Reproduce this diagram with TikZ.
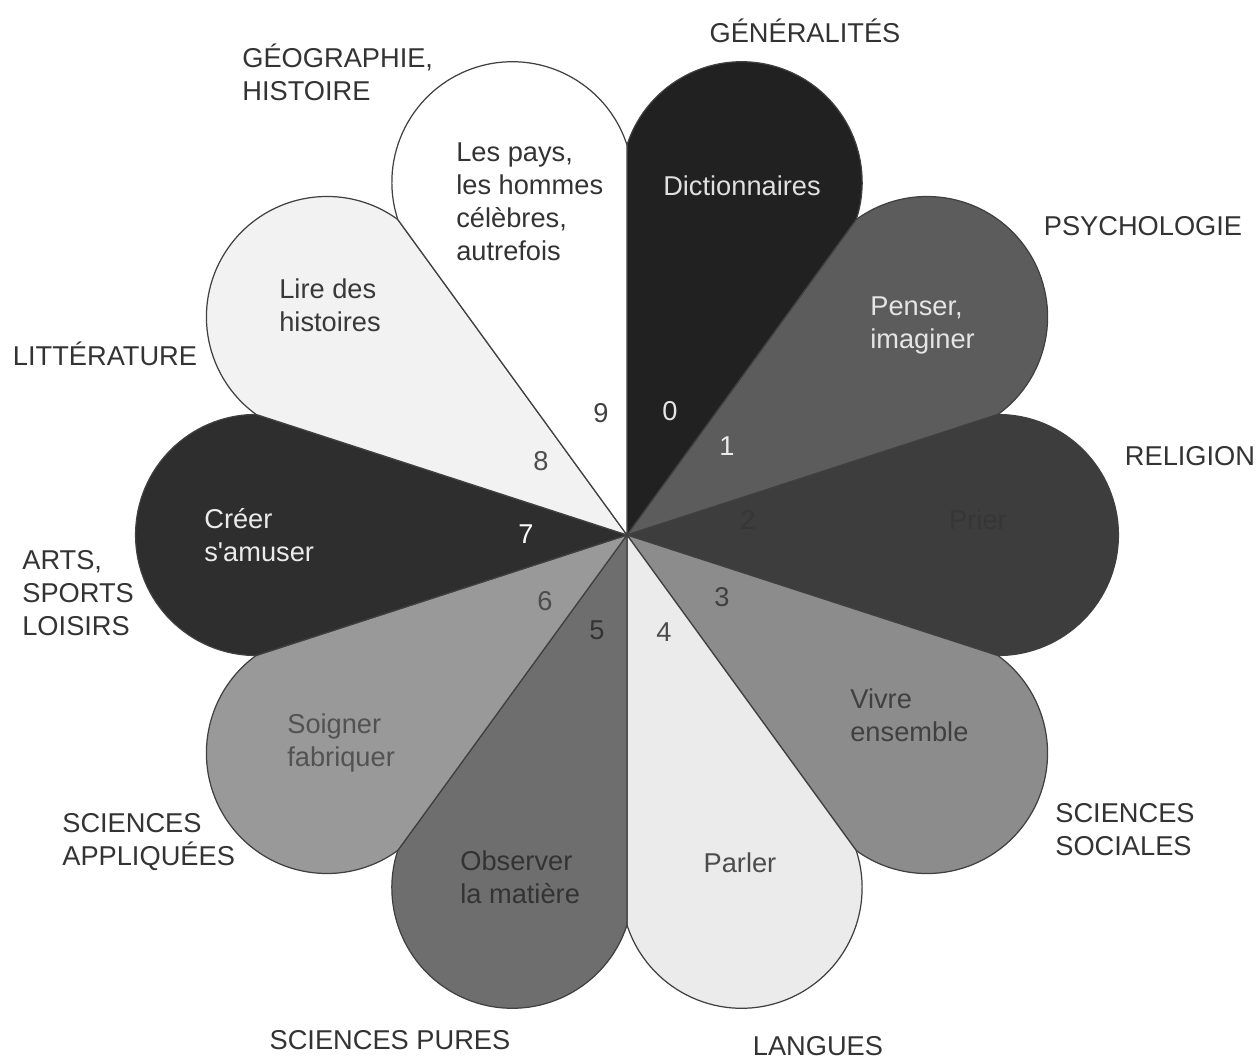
\documentclass[tikz,border=0pt]{standalone}
\usepackage{fontspec}
\setmainfont{Liberation Sans}
\usepackage{tikz}
\usetikzlibrary{positioning}

\begin{document}
\begin{tikzpicture}[font=\fontsize{15.5}{18.8}\selectfont,
  p/.style={draw=black!75,line width=0.7pt},
  cat/.style={align=left,inner sep=0pt,text=black!80},
  t/.style={align=left,inner sep=0pt},
  n/.style={inner sep=0pt}]
\useasboundingbox (-12.54,-10.48) rectangle (12.60,10.70);
% petals, clockwise from the top
\filldraw[p,fill=black!87] (0,0) -- (54:7.8) arc[start angle=-18,end angle=162,radius=2.41] -- cycle;
\filldraw[p,fill=black!64] (0,0) -- (18:7.8) arc[start angle=-54,end angle=126,radius=2.41] -- cycle;
\filldraw[p,fill=black!76] (0,0) -- (-18:7.8) arc[start angle=-90,end angle=90,radius=2.41] -- cycle;
\filldraw[p,fill=black!45] (0,0) -- (-54:7.8) arc[start angle=-126,end angle=54,radius=2.41] -- cycle;
\filldraw[p,fill=black!8] (0,0) -- (-90:7.8) arc[start angle=-162,end angle=18,radius=2.41] -- cycle;
\filldraw[p,fill=black!57] (0,0) -- (-126:7.8) arc[start angle=-198,end angle=-18,radius=2.41] -- cycle;
\filldraw[p,fill=black!40] (0,0) -- (-162:7.8) arc[start angle=-234,end angle=-54,radius=2.41] -- cycle;
\filldraw[p,fill=black!82] (0,0) -- (162:7.8) arc[start angle=90,end angle=270,radius=2.41] -- cycle;
\filldraw[p,fill=black!5] (0,0) -- (126:7.8) arc[start angle=54,end angle=234,radius=2.41] -- cycle;
\filldraw[p,fill=white] (0,0) -- (90:7.8) arc[start angle=18,end angle=198,radius=2.41] -- cycle;

% texts in the petals
\node[t,text=black!12] (dico) at (2.30,6.98) {Dictionnaires};
\node[t,text=black!10,anchor=west] (penser) at (4.86,4.20) {Penser,\\imaginer};
\node[t,text=black!79] (prier) at (7.02,0.30) {Prier};
\node[t,text=black!75,anchor=west] (vivre) at (4.46,-3.60) {Vivre\\ensemble};
\node[t,text=black!70] (parler) at (2.26,-6.56) {Parler};
\node[t,text=black!80,anchor=west] (observer) at (-3.34,-6.84) {Observer\\la matière};
\node[t,text=black!68,anchor=west] (soigner) at (-6.80,-4.16) {Soigner\\fabriquer};
\node[t,text=black!8,anchor=west] (creer) at (-8.46,0) {Créer\\s\textquotesingle amuser};
\node[t,text=black!78,anchor=west] (lire) at (-6.96,4.60) {Lire des\\histoires};
\node[t,text=black!80,anchor=west] (pays) at (-3.42,6.66) {Les pays,\\les hommes\\célèbres,\\autrefois};

% class numbers
\node[n,text=black!75] (n9) at (-0.52,2.44) {9};
\node[n,text=black!10] (n0) at (0.86,2.48) {0};
\node[n,text=black!8] (n1) at (2.00,1.78) {1};
\node[n,text=black!79] (n2) at (2.42,0.30) {2};
\node[n,text=black!75] (n3) at (1.90,-1.24) {3};
\node[n,text=black!70] (n4) at (0.74,-1.94) {4};
\node[n,text=black!80] (n5) at (-0.60,-1.90) {5};
\node[n,text=black!70] (n6) at (-1.64,-1.32) {6};
\node[n,text=white] (n7) at (-2.02,0.02) {7};
\node[n,text=black!70] (n8) at (-1.72,1.48) {8};

% class names
\node[cat] (gen) at (3.56,10.08) {GÉNÉRALITÉS};
\node[cat,anchor=west] (geo) at (-7.70,9.26) {GÉOGRAPHIE,\\HISTOIRE};
\node[cat] (psy) at (10.32,6.18) {PSYCHOLOGIE};
\node[cat] (rel) at (11.26,1.58) {RELIGION};
\node[cat,anchor=west] (soc) at (8.56,-5.90) {SCIENCES\\SOCIALES};
\node[cat] (lang) at (3.82,-10.22) {LANGUES};
\node[cat] (pures) at (-4.74,-10.10) {SCIENCES PURES};
\node[cat,anchor=west] (appl) at (-11.30,-6.14) {SCIENCES\\APPLIQUÉES};
\node[cat,anchor=west] (arts) at (-12.10,-1.16) {ARTS,\\SPORTS\\LOISIRS};
\node[cat] (litt) at (-10.44,3.62) {LITTÉRATURE};
\end{tikzpicture}
\end{document}
